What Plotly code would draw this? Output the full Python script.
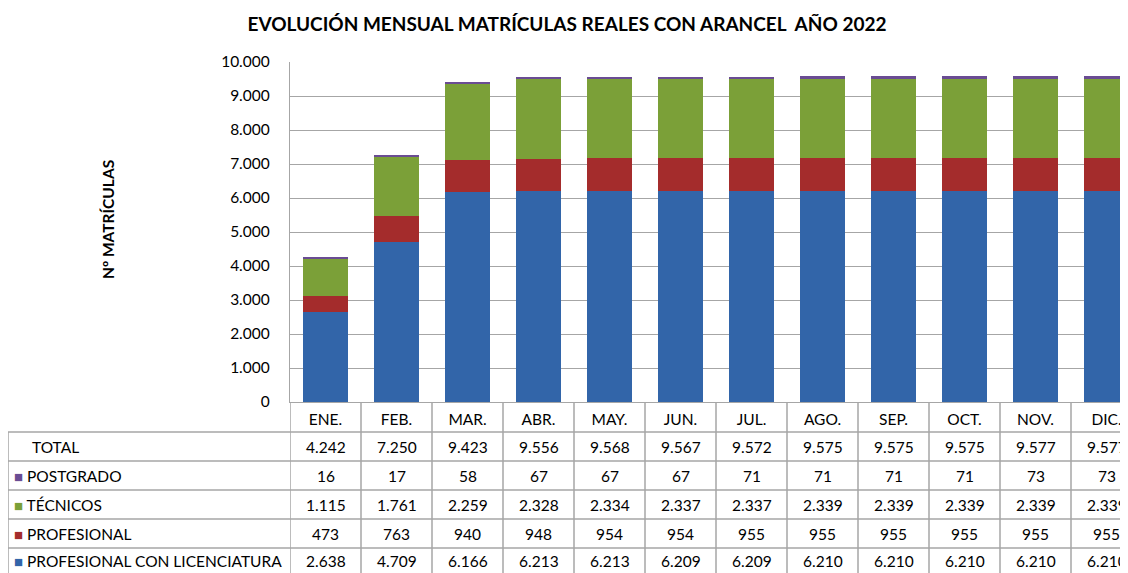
import plotly.graph_objects as go

months = ["ENE.", "FEB.", "MAR.", "ABR.", "MAY.", "JUN.", "JUL.", "AGO.", "SEP.", "OCT.", "NOV.", "DIC."]
lic = [2638, 4709, 6166, 6213, 6213, 6209, 6209, 6210, 6210, 6210, 6210, 6210]
profesional = [473, 763, 940, 948, 954, 954, 955, 955, 955, 955, 955, 955]
tecnicos = [1115, 1761, 2259, 2328, 2334, 2337, 2337, 2339, 2339, 2339, 2339, 2339]
postgrado = [16, 17, 58, 67, 67, 67, 71, 71, 71, 71, 73, 73]
total = [4242, 7250, 9423, 9556, 9568, 9567, 9572, 9575, 9575, 9575, 9577, 9577]

series = [
    ("PROFESIONAL CON LICENCIATURA", lic, "#3265A9"),
    ("PROFESIONAL", profesional, "#A42C2C"),
    ("TÉCNICOS", tecnicos, "#7BA038"),
    ("POSTGRADO", postgrado, "#6A4C93"),
]

FONT = "Lato"
OFF = 8  # page body margin
W, H = 1128 - OFF, 573 - OFF
L, T, B_PX = 290, 62, 402  # page pixel coords
COLW = 71.0
plot_w = 1128 - L
plot_h = B_PX - T

def py(p):
    return (B_PX - p) / plot_h

def px(p):
    return (p - L) / plot_w

fig = go.Figure()
for name, vals, col in series:
    fig.add_trace(go.Bar(x=months, y=vals, name=name, marker=dict(color=col, line=dict(width=0))))

grid = "#A6A6A6"
fig.update_layout(
    width=W, height=H, barmode="stack", bargap=0.38, showlegend=False,
    separators=",.",
    plot_bgcolor="white", paper_bgcolor="white",
    margin=dict(l=L - OFF, r=0, t=T - OFF, b=573 - B_PX, autoexpand=False),
    font=dict(family=FONT, size=15.5, color="#000"),
    title=dict(text="<b>EVOLUCIÓN MENSUAL MATRÍCULAS REALES CON ARANCEL  AÑO 2022</b>",
               x=(567 - OFF) / W, xanchor="center", y=1 - (24 - OFF) / H, yanchor="middle",
               font=dict(family=FONT, size=19, color="#000")),
    yaxis=dict(range=[0, 10000], dtick=1000, tickformat=",d", showgrid=True, gridcolor=grid,
               gridwidth=1.3, showline=True, linecolor=grid, linewidth=1.3, ticks="",
               ticklabelstandoff=16, tickfont=dict(size=15.5), zeroline=False, automargin=False),
    xaxis=dict(type="category", range=[-0.5, -0.5 + plot_w / COLW], showline=True, linecolor=grid,
               linewidth=1.3, ticks="", tickfont=dict(size=15.5), ticklabelstandoff=3, automargin=False),
)

# y-axis title
fig.add_annotation(text="<b>Nº MATRÍCULAS</b>", xref="paper", yref="paper", x=px(97), y=py(220),
                   textangle=-90, showarrow=False, font=dict(size=15.5, family=FONT))

# data table
row_edges = [432, 461, 490, 519, 548, 577]
rows = [
    ("TOTAL", total, None),
    ("POSTGRADO", postgrado, series[3][2]),
    ("TÉCNICOS", tecnicos, series[2][2]),
    ("PROFESIONAL", profesional, series[1][2]),
    ("PROFESIONAL CON LICENCIATURA", lic, series[0][2]),
]
line = dict(color=grid, width=1.5)
for e in row_edges[:-1]:
    fig.add_shape(type="line", xref="paper", yref="paper", x0=px(8), x1=1, y0=py(e), y1=py(e), line=line)
fig.add_shape(type="line", xref="paper", yref="paper", x0=px(8), x1=px(8), y0=py(432), y1=py(580), line=line)
for i in range(len(months) + 1):
    fig.add_shape(type="line", xref="x", yref="paper", x0=i - 0.5, x1=i - 0.5, y0=py(B_PX), y1=py(580), line=line)

def fmt(v):
    return f"{v:,}".replace(",", ".")

for r, (label, vals, col) in enumerate(rows):
    yc = (row_edges[r] + row_edges[r + 1]) / 2
    if r == 4:
        yc = 561
    if col:
        txt = f"<span style='color:{col}; font-size:15px'>■</span> {label}"
        xl = 12
    else:
        txt = label
        xl = 30
    fig.add_annotation(text=txt, xref="paper", yref="paper", x=px(xl), y=py(yc), xanchor="left",
                       yanchor="middle", showarrow=False, font=dict(size=15.5, family=FONT))
    for i, v in enumerate(vals):
        fig.add_annotation(text=fmt(v), xref="x", yref="paper", x=months[i], y=py(yc), xanchor="center",
                           yanchor="middle", showarrow=False, font=dict(size=15.5, family=FONT))

fig.write_html("out.html")
